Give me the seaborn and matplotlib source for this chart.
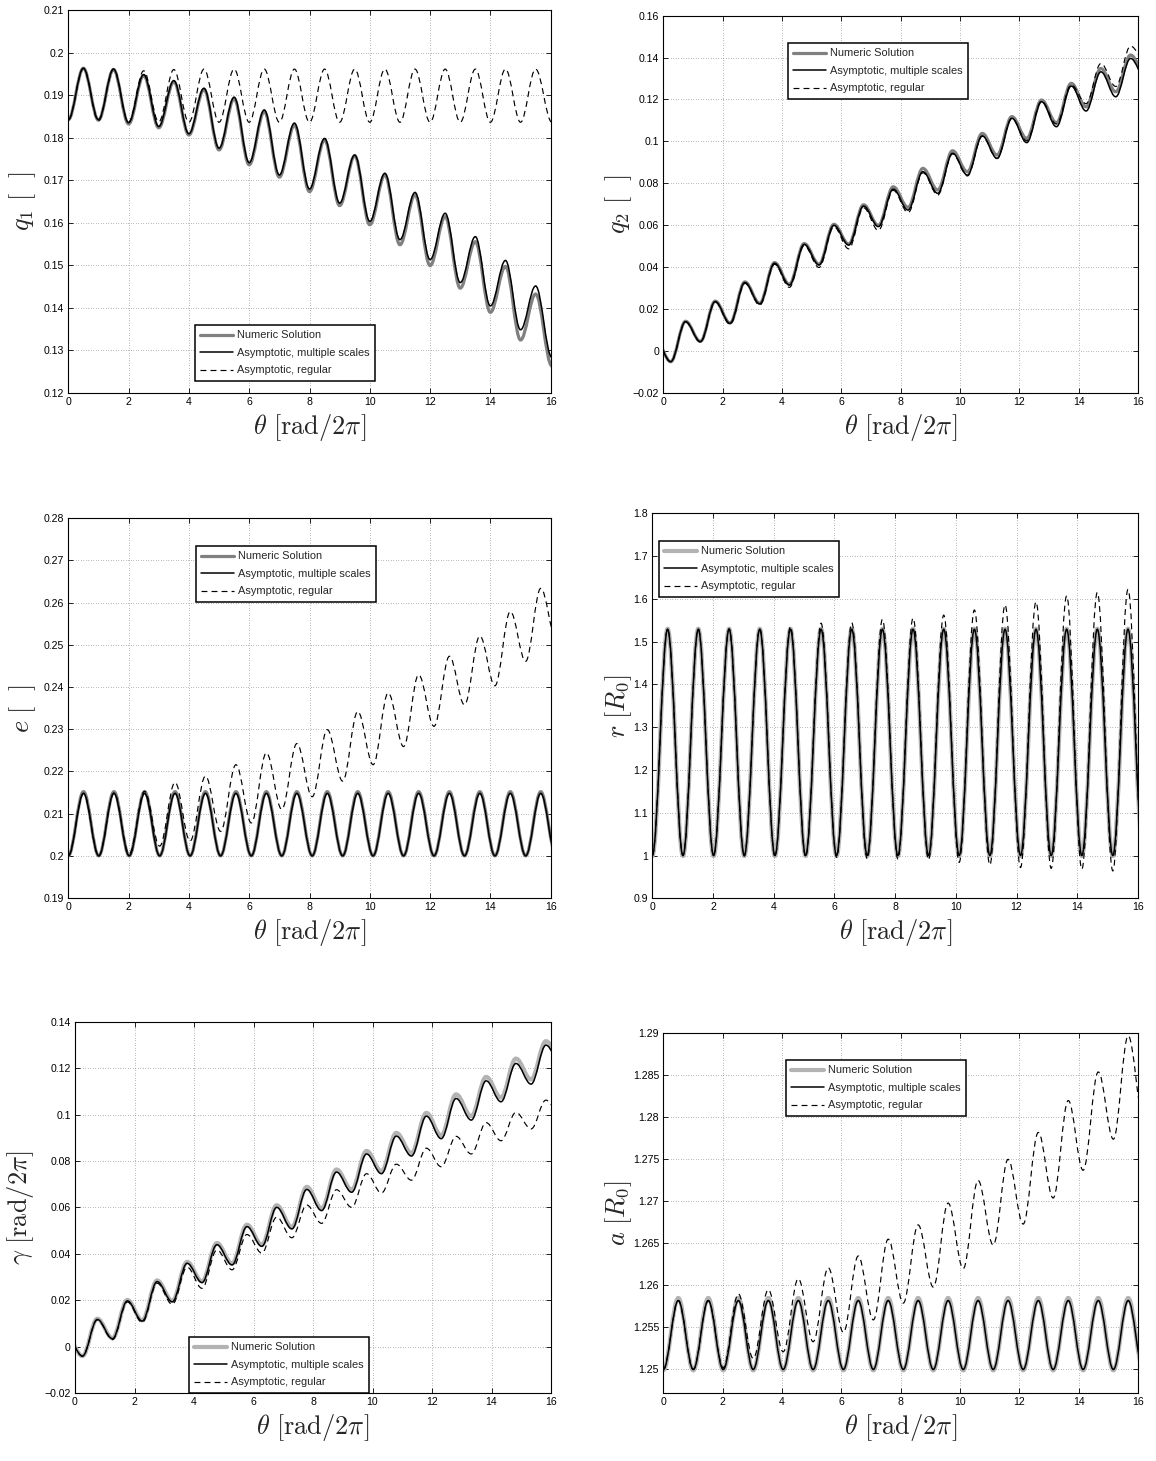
import numpy as np
import matplotlib
matplotlib.use("Agg")
import matplotlib.pyplot as plt
from matplotlib.path import Path
from matplotlib.patches import PathPatch
from matplotlib.lines import Line2D
import seaborn as sns

# ---------------- data (extrema of each curve) ----------------
theta_ticks = [0, 2, 4, 6, 8, 10, 12, 14, 16]

# q1 : extrema positions (troughs at integers, peaks at half integers)
q1_theta = [0.0, 0.5, 1.0, 1.5, 2.0, 2.5, 3.0, 3.5, 4.0, 4.5, 5.0, 5.5, 6.0, 6.5, 7.0, 7.5,
            8.0, 8.5, 9.0, 9.5, 10.0, 10.5, 11.0, 11.5, 12.0, 12.5, 13.0, 13.5, 14.0, 14.5,
            15.0, 15.5, 16.04]
q1_multi = [0.1842, 0.1963, 0.1842, 0.1961, 0.1835, 0.1948, 0.1826, 0.1934, 0.1809, 0.1916,
            0.1775, 0.1895, 0.1741, 0.1865, 0.1712, 0.1834, 0.1679, 0.1798, 0.1646, 0.1759,
            0.1603, 0.1716, 0.1560, 0.1671, 0.1513, 0.1622, 0.1459, 0.1567, 0.1404, 0.1511,
            0.1348, 0.1451, 0.1283]
q1_numeric = [0.1842, 0.1963, 0.1841, 0.1960, 0.1832, 0.1946, 0.1823, 0.1931, 0.1806, 0.1913,
              0.1771, 0.1891, 0.1736, 0.1861, 0.1707, 0.1829, 0.1673, 0.1794, 0.1640, 0.1757,
              0.1595, 0.1712, 0.1548, 0.1665, 0.1499, 0.1614, 0.1446, 0.1555, 0.1389, 0.1497,
              0.1324, 0.1432, 0.1263]
q1_regular = [0.1842, 0.1963, 0.1840, 0.1961, 0.1836, 0.1957, 0.1837, 0.1960, 0.1836, 0.1961,
              0.1836, 0.1961, 0.1836, 0.1961, 0.1836, 0.1961, 0.1836, 0.1961, 0.1836, 0.1961,
              0.1836, 0.1961, 0.1836, 0.1961, 0.1836, 0.1961, 0.1836, 0.1961, 0.1836, 0.1961,
              0.1836, 0.1961, 0.1836]
q1_yticks = [0.12, 0.13, 0.14, 0.15, 0.16, 0.17, 0.18, 0.19, 0.2, 0.21]

# q2 : extrema at quarter positions
q2_theta = [-0.25, 0.25, 0.75, 1.25, 1.75, 2.25, 2.75, 3.25, 3.75, 4.25, 4.75, 5.25, 5.75,
            6.25, 6.75, 7.25, 7.75, 8.25, 8.75, 9.25, 9.75, 10.25, 10.75, 11.25, 11.75,
            12.25, 12.75, 13.25, 13.75, 14.25, 14.75, 15.25, 15.75, 16.25]
q2_multi = [0.0052, -0.0052, 0.0139, 0.0044, 0.0235, 0.0131, 0.0326, 0.0224, 0.0418, 0.0314,
            0.0508, 0.0410, 0.0599, 0.0505, 0.0691, 0.0593, 0.0772, 0.0672, 0.0855, 0.0752,
            0.0943, 0.0839, 0.1026, 0.0919, 0.1110, 0.0994, 0.1189, 0.1070, 0.1264, 0.1145,
            0.1332, 0.1213, 0.1396, 0.1300]
q2_numeric = [0.0052, -0.0052, 0.0141, 0.0045, 0.0237, 0.0133, 0.0329, 0.0227, 0.0421, 0.0318,
              0.0512, 0.0414, 0.0604, 0.0510, 0.0697, 0.0599, 0.0783, 0.0685, 0.0871, 0.0768,
              0.0955, 0.0855, 0.1038, 0.0935, 0.1118, 0.1014, 0.1197, 0.1089, 0.1277, 0.1165,
              0.1348, 0.1237, 0.1412, 0.1320]
q2_regular = [0.0052, -0.0052, 0.0138, 0.0042, 0.0233, 0.0127, 0.0322, 0.0218, 0.0413, 0.0303,
              0.0502, 0.0398, 0.0592, 0.0487, 0.0683, 0.0575, 0.0766, 0.0660, 0.0850, 0.0744,
              0.0940, 0.0835, 0.1024, 0.0918, 0.1110, 0.1003, 0.1192, 0.1083, 0.1270, 0.1180,
              0.1372, 0.1262, 0.1455, 0.1380]
q2_yticks = [-0.02, 0, 0.02, 0.04, 0.06, 0.08, 0.1, 0.12, 0.14, 0.16]

# e, r, a : extrema (troughs / peaks), slowly drifting period
orb_theta = [0.0, 0.505, 1.01, 1.515, 2.02, 2.53, 3.03, 3.54, 4.04, 4.55, 5.05, 5.56, 6.07,
             6.57, 7.08, 7.58, 8.09, 8.59, 9.10, 9.60, 10.11, 10.61, 11.12, 11.62, 12.13,
             12.64, 13.14, 13.65, 14.15, 14.66, 15.17, 15.67, 16.18]

e_multi = [0.2000, 0.2148] * 16 + [0.2000]
e_numeric = [0.2000, 0.2152] * 16 + [0.2000]
e_regular = [0.2000, 0.2148, 0.2000, 0.2149, 0.2005, 0.2153, 0.2023, 0.2174, 0.2035, 0.2189,
             0.2058, 0.2216, 0.2078, 0.2244, 0.2110, 0.2266, 0.2140, 0.2299, 0.2177, 0.2342,
             0.2216, 0.2386, 0.2259, 0.2429, 0.2307, 0.2473, 0.2358, 0.2521, 0.2403, 0.2579,
             0.2461, 0.2634, 0.2515]
e_yticks = [0.19, 0.2, 0.21, 0.22, 0.23, 0.24, 0.25, 0.26, 0.27, 0.28]

r_multi = [1.000, 1.529] * 16 + [1.000]
r_numeric = [0.999, 1.530] * 16 + [0.999]
r_regular = [1.000, 1.529, 1.000, 1.529, 1.000, 1.530, 0.999, 1.531, 0.998, 1.535,
             0.997, 1.543, 0.996, 1.544, 0.992, 1.552, 0.992, 1.555, 0.990, 1.562,
             0.984, 1.574, 0.978, 1.586, 0.972, 1.593, 0.970, 1.607, 0.968, 1.615,
             0.964, 1.622, 0.960]
r_yticks = [0.9, 1.0, 1.1, 1.2, 1.3, 1.4, 1.5, 1.6, 1.7, 1.8]

a_multi = [1.2500, 1.2582] * 16 + [1.2500]
a_numeric = [1.2499, 1.2585] * 16 + [1.2499]
a_regular = [1.2500, 1.2582, 1.2500, 1.2582, 1.2502, 1.2590, 1.2513, 1.2595, 1.2521, 1.2608,
             1.2533, 1.2621, 1.2544, 1.2635, 1.2559, 1.2655, 1.2579, 1.2672, 1.2598, 1.2698,
             1.2620, 1.2725, 1.2648, 1.2750, 1.2673, 1.2782, 1.2704, 1.2820, 1.2737, 1.2854,
             1.2774, 1.2897, 1.2800]
a_yticks = [1.25, 1.255, 1.26, 1.265, 1.27, 1.275, 1.28, 1.285, 1.29]

# gamma : extrema at quarter positions, slowly drifting
g_theta = [-0.25, 0.25, 0.75, 1.26, 1.76, 2.26, 2.76, 3.27, 3.77, 4.27, 4.77, 5.28, 5.78,
           6.28, 6.78, 7.29, 7.79, 8.29, 8.79, 9.30, 9.80, 10.30, 10.80, 11.31, 11.81,
           12.31, 12.81, 13.32, 13.82, 14.32, 14.82, 15.33, 15.83, 16.33]
g_multi = [0.0041, -0.0041, 0.0117, 0.0034, 0.0197, 0.0110, 0.0280, 0.0193, 0.0359, 0.0276,
           0.0439, 0.0352, 0.0517, 0.0432, 0.0600, 0.0507, 0.0677, 0.0586, 0.0752, 0.0665,
           0.0830, 0.0745, 0.0907, 0.0821, 0.0993, 0.0896, 0.1069, 0.0976, 0.1145, 0.1055,
           0.1220, 0.1131, 0.1299, 0.1215]
g_numeric = [0.0041, -0.0041, 0.0120, 0.0036, 0.0201, 0.0113, 0.0285, 0.0197, 0.0365, 0.0281,
             0.0446, 0.0358, 0.0525, 0.0439, 0.0609, 0.0515, 0.0688, 0.0596, 0.0763, 0.0676,
             0.0843, 0.0756, 0.0921, 0.0834, 0.1007, 0.0910, 0.1087, 0.0993, 0.1162, 0.1073,
             0.1241, 0.1151, 0.1316, 0.1235]
g_regular = [0.0041, -0.0041, 0.0115, 0.0030, 0.0192, 0.0104, 0.0273, 0.0182, 0.0342, 0.0251,
             0.0416, 0.0331, 0.0483, 0.0403, 0.0558, 0.0469, 0.0610, 0.0531, 0.0676, 0.0600,
             0.0745, 0.0662, 0.0786, 0.0717, 0.0855, 0.0775, 0.0906, 0.0830, 0.0965, 0.0887,
             0.1009, 0.0938, 0.1062, 0.0990]
g_yticks = [-0.02, 0, 0.02, 0.04, 0.06, 0.08, 0.1, 0.12, 0.14]

legend_labels = ["Numeric Solution", "Asymptotic, multiple scales", "Asymptotic, regular"]

# ---------------- style ----------------
sns.set_theme(style="ticks", rc={
    "axes.linewidth": 0.8,
    "xtick.direction": "in", "ytick.direction": "in",
    "xtick.top": True, "ytick.right": True,
    "xtick.major.size": 3.5, "ytick.major.size": 3.5,
    "xtick.major.width": 0.6, "ytick.major.width": 0.6,
})
plt.rcParams["font.family"] = ["Liberation Sans", "DejaVu Sans"]
plt.rcParams["mathtext.fontset"] = "cm"

W, H = 1156, 1461
fig = plt.figure(figsize=(W / 100, H / 100), dpi=100)


def smooth_path(xs, ys, k=0.364):
    verts = [(xs[0], ys[0])]
    codes = [Path.MOVETO]
    for i in range(len(xs) - 1):
        dx = xs[i + 1] - xs[i]
        verts += [(xs[i] + k * dx, ys[i]), (xs[i + 1] - k * dx, ys[i + 1]), (xs[i + 1], ys[i + 1])]
        codes += [Path.CURVE4] * 3
    return Path(verts, codes)


def fmt(v):
    s = f"{v:g}"
    return s.replace("-", "\u2212")


panels = [
    dict(theta=q1_theta, ser=(q1_numeric, q1_multi, q1_regular), box=(68.3, 10, 550.7, 392.7),
         ylim=(0.12, 0.21), yt=q1_yticks, ylab=r"$q_1\ [\ \ ]$", gray="#808080", glw=2.3,
         leg=(195, 325), ylx=38),
    dict(theta=q2_theta, ser=(q2_numeric, q2_multi, q2_regular), box=(663.3, 15.7, 1138, 392.7),
         ylim=(-0.02, 0.16), yt=q2_yticks, ylab=r"$q_2\ [\ \ ]$", gray="#808080", glw=2.3,
         leg=(788, 43), ylx=634),
    dict(theta=orb_theta, ser=(e_numeric, e_multi, e_regular), box=(68.3, 518.3, 550.7, 898),
         ylim=(0.19, 0.28), yt=e_yticks, ylab=r"$e\ [\ \ ]$", gray="#808080", glw=2.3,
         leg=(196, 546), ylx=38),
    dict(theta=orb_theta, ser=(r_numeric, r_multi, r_regular), box=(652.3, 513.3, 1138, 898.3),
         ylim=(0.9, 1.8), yt=r_yticks, ylab=r"$r\ [R_0]$", gray="#b3b3b3", glw=3.0,
         leg=(659, 541), ylx=634),
    dict(theta=g_theta, ser=(g_numeric, g_multi, g_regular), box=(75, 1021.7, 551, 1393),
         ylim=(-0.02, 0.14), yt=g_yticks, ylab=r"$\gamma\ [\mathrm{rad}/2\pi]$", gray="#b3b3b3",
         glw=3.0, leg=(189, 1337), ylx=36),
    dict(theta=orb_theta, ser=(a_numeric, a_multi, a_regular), box=(663.3, 1033.3, 1138, 1393),
         ylim=(1.2472, 1.29), yt=a_yticks, ylab=r"$a\ [R_0]$", gray="#b3b3b3", glw=3.0,
         leg=(786, 1060), ylx=634),
]

dash = (0, (5.0, 3.5))
for p in panels:
    x0, y0, x1, y1 = p["box"]
    ax = fig.add_axes([x0 / W, 1 - y1 / H, (x1 - x0) / W, (y1 - y0) / H])
    ax.set_xlim(0, 16)
    ax.set_ylim(*p["ylim"])
    num, multi, reg = p["ser"]
    th = p["theta"]
    ax.add_patch(PathPatch(smooth_path(th, num), fill=False, edgecolor=p["gray"],
                           linewidth=p["glw"], zorder=2, capstyle="butt"))
    ax.add_patch(PathPatch(smooth_path(th, multi), fill=False, edgecolor="black",
                           linewidth=1.1, zorder=3))
    ax.add_patch(PathPatch(smooth_path(th, reg), fill=False, edgecolor="black",
                           linewidth=0.85, linestyle=dash, zorder=4))
    ax.set_xticks(theta_ticks)
    ax.set_xticklabels([fmt(v) for v in theta_ticks])
    ax.set_yticks(p["yt"])
    ax.set_yticklabels([fmt(v) for v in p["yt"]])
    ax.tick_params(labelsize=7.6, pad=3, colors="black")
    ax.grid(True, color="#555555", linestyle=(0, (0.8, 2.8)), linewidth=0.5)
    for s in ax.spines.values():
        s.set_color("black")
        s.set_linewidth(0.8)
    ax.set_xlabel(r"$\theta\ [\mathrm{rad}/2\pi]$", fontsize=19)
    ax.xaxis.set_label_coords(0.5, -19.0 / (y1 - y0))
    ax.set_ylabel(p["ylab"], fontsize=19)
    ax.yaxis.set_label_coords((p["ylx"] - x0) / (x1 - x0), 0.5)
    handles = [Line2D([], [], color=p["gray"], lw=p["glw"]),
               Line2D([], [], color="black", lw=1.1),
               Line2D([], [], color="black", lw=0.85, linestyle=dash)]
    lx, ly = p["leg"]
    leg = ax.legend(handles, legend_labels, loc="upper left",
                    bbox_to_anchor=(lx / W, 1 - ly / H), bbox_transform=fig.transFigure,
                    frameon=True, fancybox=False, framealpha=1, edgecolor="black",
                    borderpad=0.5, labelspacing=0.68, handlelength=3.0, handletextpad=0.3,
                    borderaxespad=0, prop={"family": "Liberation Sans", "size": 7.9})
    leg.get_frame().set_linewidth(1.1)
    leg.set_zorder(10)

fig.savefig("out.png", dpi=100)
